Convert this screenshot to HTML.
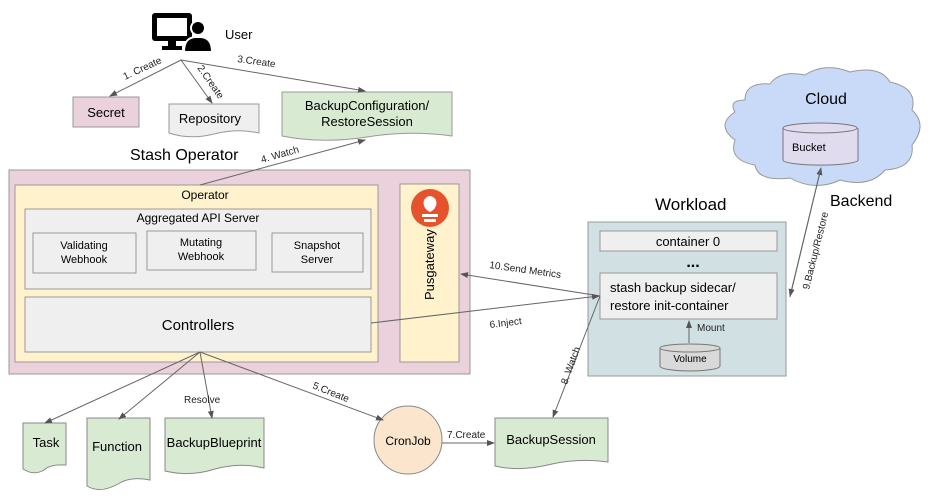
<!DOCTYPE html>
<html><head><meta charset="utf-8"><style>body{margin:0;background:#fff}svg{display:block;font-family:"Liberation Sans",Arial,sans-serif}</style></head><body>
<svg width="930" height="497" viewBox="0 0 930 497" xmlns="http://www.w3.org/2000/svg">
<defs><marker id="a" markerWidth="8" markerHeight="8" refX="7" refY="4" orient="auto" markerUnits="userSpaceOnUse"><path d="M0,1 L8,4 L0,7 z" fill="#555"/></marker></defs>
<g fill="#000">
<rect x="152" y="13" width="40" height="28" rx="3"/><rect x="157" y="18" width="30" height="18" fill="#fff"/>
<rect x="168" y="41" width="8" height="6"/><rect x="162" y="46" width="20" height="4"/>
<circle cx="198" cy="28" r="7" stroke="#fff" stroke-width="2"/><path d="M184,52 Q184,36 198,37 Q212,36 212,52 z" stroke="#fff" stroke-width="2"/>
</g>
<text x="225" y="39" font-size="13">User</text>
<rect x="73" y="97" width="66" height="30" fill="#ead1dc" stroke="#999"/><text x="106" y="117" font-size="13" text-anchor="middle">Secret</text>
<path d="M169,104 H259 V133 Q236,128 214,134 Q190,140 169,133 z" fill="#efefef" stroke="#999"/><text x="210" y="123" font-size="13" text-anchor="middle">Repository</text>
<path d="M282,92 H452 V136 Q410,130 367,137 Q322,144 282,136 z" fill="#d9ead3" stroke="#999"/><text x="367" y="110" font-size="13" text-anchor="middle">BackupConfiguration/</text><text x="367" y="126" font-size="13" text-anchor="middle">RestoreSession</text>
<text x="130" y="160" font-size="16">Stash Operator</text>
<rect x="9" y="170" width="461" height="204" fill="#ead1dc" stroke="#999"/>
<rect x="15" y="185" width="363" height="177" fill="#fff2cc" stroke="#999"/>
<text x="205" y="199" font-size="12" text-anchor="middle">Operator</text>
<rect x="25" y="209" width="346" height="80" fill="#efefef" stroke="#999"/>
<text x="198" y="222" font-size="12" text-anchor="middle">Aggregated API Server</text>
<g font-size="11" text-anchor="middle">
<rect x="33" y="233" width="103" height="40" fill="#efefef" stroke="#999"/><text x="84" y="249">Validating</text><text x="84" y="263">Webhook</text>
<rect x="147" y="231" width="109" height="39" fill="#efefef" stroke="#999"/><text x="201" y="246">Mutating</text><text x="201" y="260">Webhook</text>
<rect x="272" y="233" width="91" height="39" fill="#efefef" stroke="#999"/><text x="317" y="249">Snapshot</text><text x="317" y="263">Server</text>
</g>
<rect x="25" y="297" width="346" height="55" fill="#efefef" stroke="#999"/><text x="198" y="330" font-size="15" text-anchor="middle">Controllers</text>
<rect x="400" y="184" width="59" height="178" fill="#fff2cc" stroke="#999"/>
<circle cx="430" cy="208" r="19" fill="#e6522c"/><path d="M424,200 Q430,192 436,200 Q438,208 430,212 Q422,208 424,200z M422,214 H438 V217 H422z M424,219 H436 V222 H424z" fill="#fff"/>
<text transform="translate(434,300) rotate(-90)" font-size="13">Pusgateway</text>
<text x="655" y="210" font-size="17">Workload</text>
<rect x="588" y="222" width="198" height="154" fill="#d0e0e3" stroke="#999"/>
<rect x="600" y="231" width="177" height="20" fill="#efefef" stroke="#999"/><text x="688" y="246" font-size="13" text-anchor="middle">container 0</text>
<text x="693" y="267" font-size="16" font-weight="bold" text-anchor="middle">...</text>
<rect x="600" y="273" width="177" height="46" fill="#efefef" stroke="#999"/><text x="610" y="292" font-size="13">stash backup sidecar/</text><text x="610" y="310" font-size="13">restore init-container</text>
<path d="M660,348 V366 A30,5 0 0 0 720,366 V348" fill="#d9d9d9" stroke="#777"/><ellipse cx="690" cy="348" rx="30" ry="4" fill="#d9d9d9" stroke="#777"/><text x="690" y="362" font-size="10" text-anchor="middle">Volume</text>
<path d="M745,100 Q745,82 770,84 Q780,70 805,75 Q825,62 850,72 Q880,65 890,82 Q918,88 912,110 Q928,125 912,145 Q915,168 885,170 Q870,188 840,180 Q815,192 790,178 Q758,182 755,165 Q728,160 735,140 Q715,125 735,112 Q728,100 745,100z" fill="#c9daf8" stroke="#999"/>
<text x="826" y="104" font-size="16" text-anchor="middle">Cloud</text>
<path d="M783,128 V160 A37,5 0 0 0 858,160 V128" fill="#e1dbf0" stroke="#777"/><ellipse cx="820" cy="128" rx="37" ry="5" fill="#e1dbf0" stroke="#777"/><text x="792" y="151" font-size="11">Bucket</text>
<text x="830" y="206" font-size="16">Backend</text>
<g stroke="#888" fill="#d9ead3">
<path d="M23,423 H66 V465 Q50,464 44,470 Q34,476 23,469 z"/>
<path d="M87,418 H150 V480 Q130,476 118,484 Q100,494 87,486 z"/>
<path d="M165,418 H264 V468 Q240,462 215,469 Q190,477 165,471 z"/>
<path d="M495,418 H608 V462 Q580,458 552,464 Q520,472 495,466 z"/>
</g>
<g font-size="13" text-anchor="middle"><text x="46" y="447">Task</text><text x="117" y="451">Function</text><text x="214" y="447">BackupBlueprint</text><text x="551" y="444">BackupSession</text></g>
<ellipse cx="408" cy="440" rx="34" ry="34" fill="#fce5cd" stroke="#888"/><text x="408" y="445" font-size="12" text-anchor="middle">CronJob</text>
<g stroke="#666" stroke-width="1" fill="none" marker-end="url(#a)">
<line x1="181" y1="60" x2="110" y2="96"/><line x1="181" y1="60" x2="212" y2="103"/><line x1="181" y1="60" x2="365" y2="91"/>
<line x1="200" y1="185" x2="365" y2="140"/>
<line x1="600" y1="296" x2="461" y2="274"/><line x1="371" y1="323" x2="599" y2="296"/>
<line x1="790" y1="297" x2="821" y2="168"/><line x1="821" y1="168" x2="790" y2="296"/>
<line x1="600" y1="296" x2="553" y2="417"/>
<line x1="689" y1="343" x2="689" y2="321"/>
<line x1="200" y1="352" x2="45" y2="423"/><line x1="200" y1="352" x2="119" y2="419"/><line x1="200" y1="352" x2="212" y2="418"/><line x1="200" y1="352" x2="383" y2="420"/>
<line x1="442" y1="443" x2="494" y2="443"/>
</g>
<g font-size="10" fill="#222">
<text transform="translate(125,80) rotate(-25)">1. Create</text>
<text transform="translate(197,68) rotate(55)">2.Create</text>
<text transform="translate(237,62) rotate(8)">3.Create</text>
<text transform="translate(262,163) rotate(-16)">4. Watch</text>
<text transform="translate(489,268) rotate(8)">10.Send Metrics</text>
<text transform="translate(490,328) rotate(-7)">6.Inject</text>
<text transform="translate(809,290) rotate(-76)">9.Backup/Restore</text>
<text transform="translate(567,385) rotate(-70)">8. Watch</text>
<text transform="translate(312,388) rotate(22)">5.Create</text>
<text x="184" y="403">Resolve</text>
<text x="447" y="438">7.Create</text>
<text x="697" y="331">Mount</text>
</g>
</svg>
</body></html>
